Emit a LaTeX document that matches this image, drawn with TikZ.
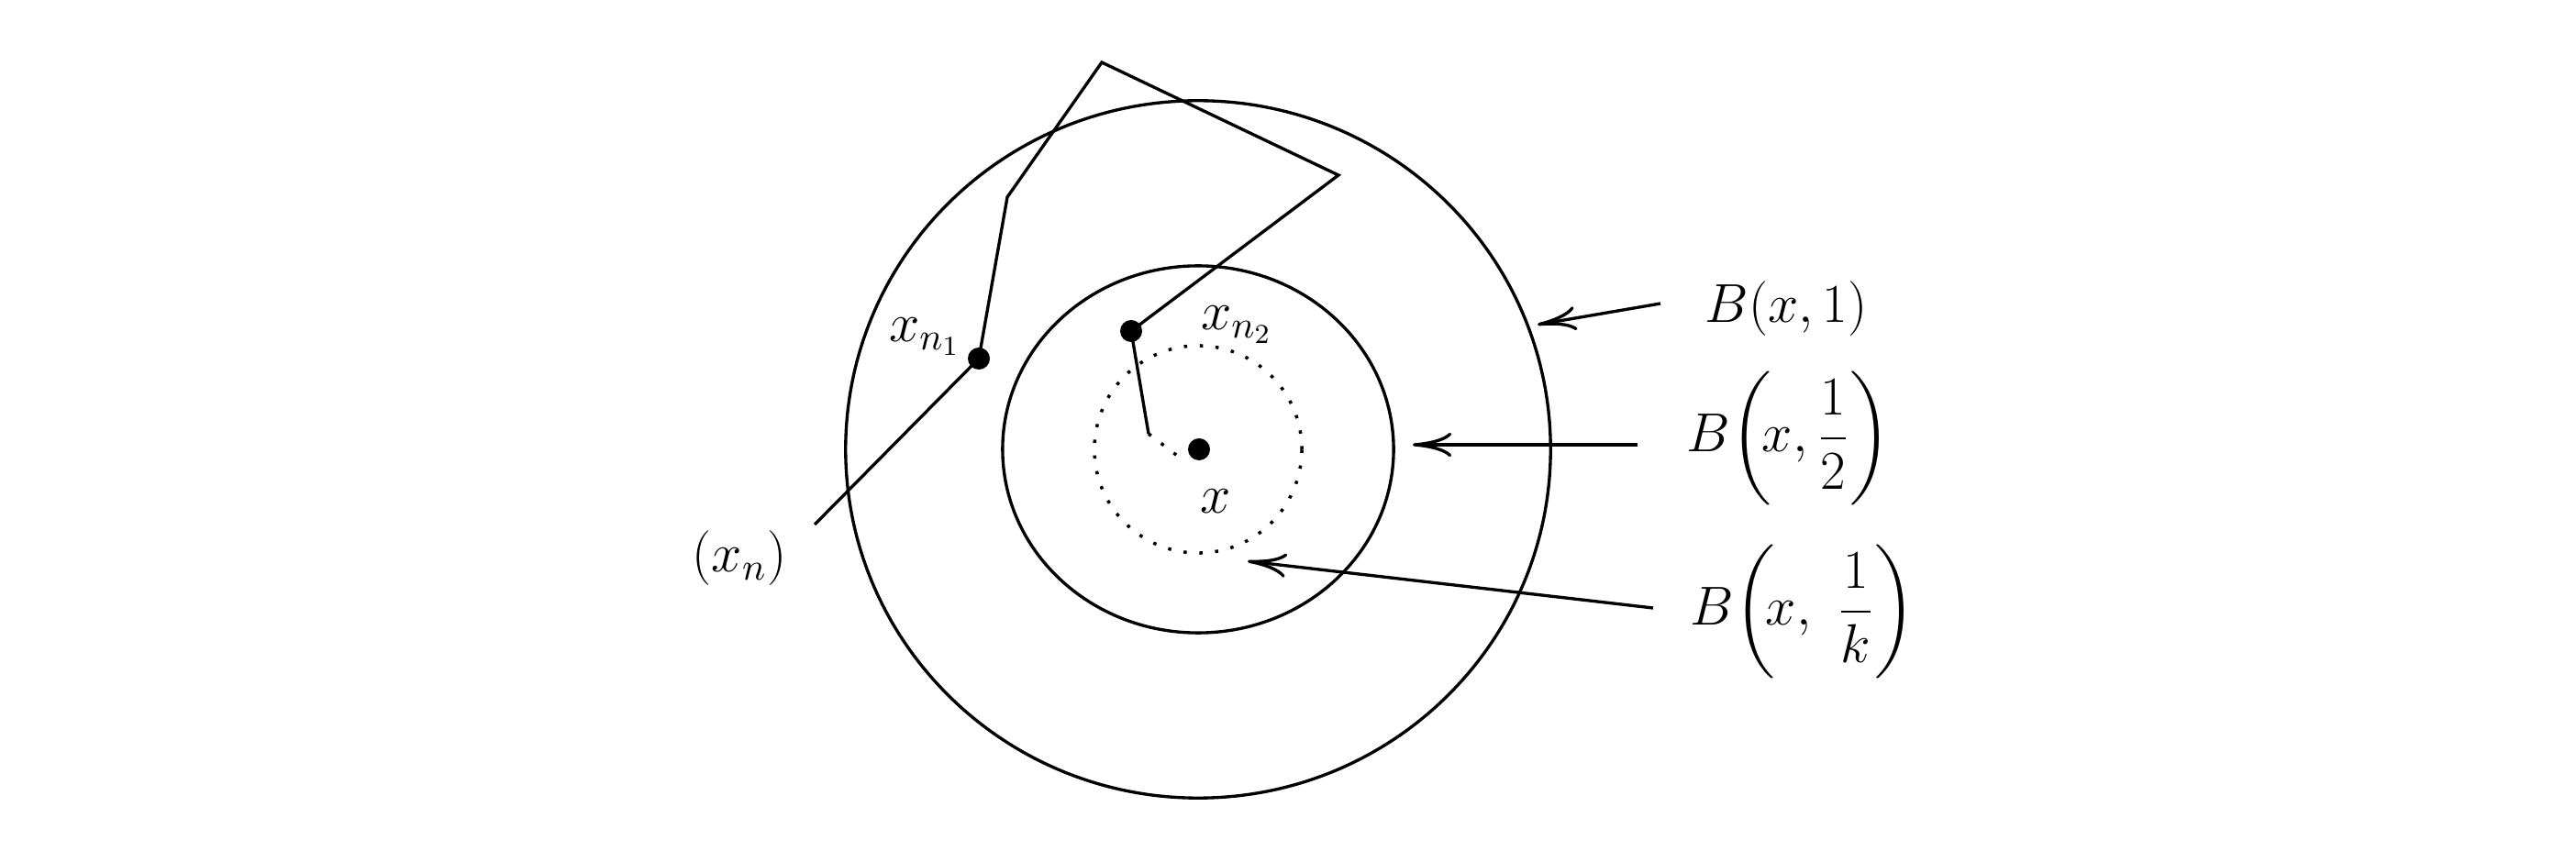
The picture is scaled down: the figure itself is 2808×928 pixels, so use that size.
\RequirePackage{fix-cm}
\documentclass[tikz,border=0pt]{standalone}
\usepackage{amsmath}
\usetikzlibrary{arrows.meta,calc}
\begin{document}
\begin{tikzpicture}[x=0.01cm,y=-0.01cm,
  every node/.style={font=\fontsize{17}{20}\selectfont},
  curve/.style={line width=0.95pt},
  dotc/.style={line width=1pt, dash pattern=on 1pt off 3.9pt},
  pt/.style={circle, fill=black, inner sep=0pt, minimum size=0.24cm},
  lab/.style={inner sep=0pt, anchor=west},
  arr/.style={line width=0.95pt, -{Computer Modern Rightarrow[length=12pt,width=7.5pt]}}]
\useasboundingbox (0,0) rectangle (2808,928);
\coordinate (c) at (1306,490);
\draw[curve] (c) ellipse [x radius=3.84cm, y radius=3.80cm];
\draw[curve] (c) ellipse [x radius=2.13cm, y radius=2.00cm];
\draw[dotc] (c) circle [radius=1.13cm];
\coordinate (s) at (888,572);
\coordinate (p1) at (1098,215);
\coordinate (p2) at (1201,68);
\coordinate (p3) at (1459,191);
\coordinate (e) at (1252,473);
\coordinate (d) at (1286,499);
\node[pt] (xn1) at (1067,391) {};
\node[pt] (xn2) at (1233,361) {};
\node[pt] (x) at (1307,490) {};
\draw[curve, line join=miter] (s) -- (xn1.center) -- (p1) -- (p2) -- (p3) -- (xn2.center) -- (e);
\draw[dotc] (e) -- (d);
\node (lxn1) at (1008,367) {$x_{n_1}$};
\node (lxn2) at (1348,354) {$x_{n_2}$};
\node (lx) at (1325,547) {$x$};
\node (lxn) at (806,609) {$(x_n)$};
\node[lab] (l1) at (1858,337) {$B(x,1)$};
\node[lab] (l2) at (1838,478) {$B\!\left(\!x,\dfrac{1}{2}\right)$};
\node[lab] (l3) at (1842,667) {$B\!\left(\!x,\ \dfrac{1}{k}\right)$};
\coordinate (t1) at (1676,354);
\coordinate (t2) at (1540,485);
\coordinate (t3) at (1360,612);
\draw[arr] ($(l1.west)+(-48,-6)$) -- (t1);
\draw[arr] ($(l2.west)+(-53,7)$) -- (t2);
\draw[arr] ($(l3.west)+(-40,-4)$) -- (t3);
\end{tikzpicture}
\end{document}
